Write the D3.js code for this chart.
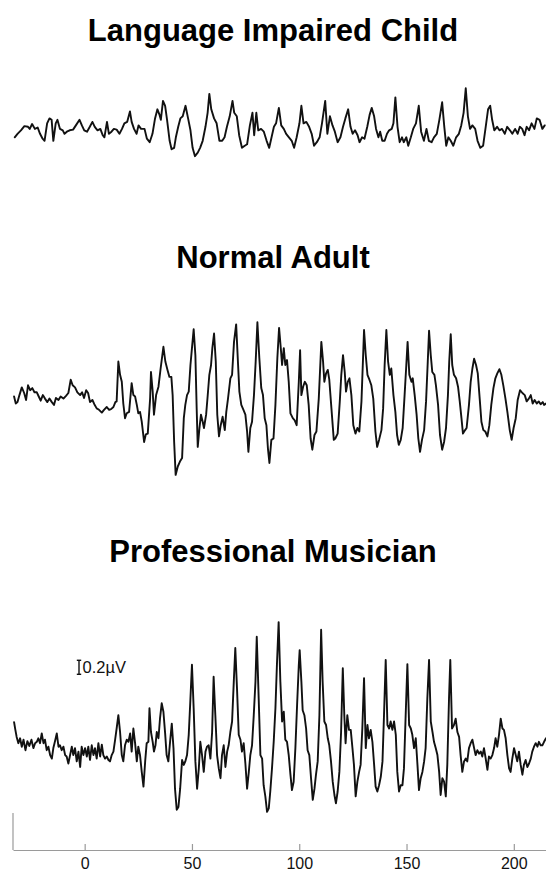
<!DOCTYPE html>
<html>
<head>
<meta charset="utf-8">
<script src="https://cdn.jsdelivr.net/npm/d3@7"></script>
<style>
  html, body { margin: 0; padding: 0; background: #fff; }
  svg { display: block; font-family: "Liberation Sans", Arial, Helvetica, sans-serif; }
</style>
</head>
<body>
<svg id="chart" width="546" height="874"></svg>
<script>
// Averaged brainstem responses: [latency (ms), amplitude (µV)]
const childTrace = [
  [-32.6,-0.09],[-31.3,-0.04],[-29.7,0.01],[-28.1,0.07],[-26.4,0.06],[-25.6,0.03],[-24.5,0.10],[-23.2,0.03],[-21.9,0.05],[-20.8,-0.04],
  [-19.6,-0.11],[-18.7,-0.14],[-17.5,0.11],[-16.4,0.18],[-15.4,0.16],[-14.6,-0.14],[-13.5,0.11],[-12.7,0.16],[-11.5,0.03],[-10.2,0.01],
  [-9.4,-0.04],[-8.3,-0.01],[-7.0,0.01],[-5.4,0.02],[-4.1,0.08],[-2.4,0.16],[-1.3,0.08],[-0.2,0.01],[1.1,-0.01],[2.4,0.06],
  [3.6,0.13],[4.7,0.06],[6.0,0.01],[7.3,0.03],[8.4,-0.06],[9.2,-0.09],[10.4,0.13],[11.3,-0.04],[12.5,-0.01],[13.6,0.03],
  [14.9,0.02],[16.2,-0.04],[17.4,0.03],[18.5,0.11],[19.8,0.13],[21.1,0.28],[21.9,0.13],[23.0,0.03],[24.2,-0.04],[25.1,0.08],
  [26.3,0.03],[27.9,0.03],[29.0,-0.11],[30.3,-0.16],[31.6,-0.04],[32.8,0.18],[33.9,0.31],[34.9,0.23],[35.5,0.16],[36.5,0.43],
  [37.5,0.36],[38.4,0.16],[39.6,-0.14],[40.5,-0.26],[41.7,-0.24],[42.5,-0.09],[43.6,0.06],[44.6,0.18],[45.7,0.21],[47.0,0.36],
  [48.2,0.18],[49.3,0.01],[50.3,-0.24],[51.4,-0.36],[52.7,-0.31],[53.8,-0.24],[55.0,-0.14],[56.3,0.06],[57.3,0.26],[58.1,0.53],
  [59.0,0.31],[60.3,0.18],[61.5,0.11],[62.8,-0.14],[64.1,-0.14],[65.2,-0.09],[66.3,0.06],[67.6,0.21],[68.9,0.43],[69.7,0.26],
  [70.9,0.21],[72.0,-0.06],[73.3,-0.24],[74.6,-0.21],[75.7,-0.19],[77.0,0.08],[78.2,0.26],[79.0,-0.06],[80.0,0.26],[80.9,0.01],
  [82.2,0.03],[83.5,-0.01],[84.8,-0.14],[86.0,-0.24],[87.1,-0.09],[88.2,0.06],[89.2,0.11],[90.5,0.33],[91.6,0.08],[92.8,0.03],
  [93.9,-0.04],[95.2,-0.09],[96.5,-0.14],[97.6,-0.24],[98.8,-0.09],[100.1,0.11],[101.0,0.36],[102.0,0.11],[103.3,0.13],[104.6,0.06],
  [105.8,-0.04],[106.9,-0.21],[108.2,-0.16],[109.5,-0.09],[110.6,0.11],[112.1,0.43],[113.1,-0.04],[114.3,0.21],[115.5,0.08],[116.6,-0.01],
  [117.9,-0.16],[119.2,-0.09],[120.4,0.06],[121.5,0.18],[122.8,0.31],[123.9,0.06],[124.9,-0.04],[126.0,0.01],[127.2,-0.06],[128.1,-0.16],
  [129.3,-0.09],[130.4,-0.11],[131.7,0.06],[132.8,0.23],[133.8,0.33],[134.9,0.21],[135.8,0.03],[136.9,-0.09],[137.7,-0.01],[138.7,-0.14],
  [139.8,-0.14],[140.9,-0.04],[141.9,0.01],[143.1,0.03],[143.9,0.11],[144.8,0.48],[145.8,0.06],[146.8,-0.16],[147.9,-0.09],[148.7,-0.16],
  [149.9,-0.09],[150.8,-0.21],[152.0,-0.09],[153.1,0.03],[154.4,0.11],[155.7,0.36],[156.8,-0.01],[158.1,-0.14],[159.3,0.03],[160.4,-0.14],
  [161.7,-0.16],[162.8,-0.09],[164.1,-0.04],[165.3,0.16],[166.6,0.41],[167.6,0.06],[168.5,-0.21],[169.5,-0.09],[170.6,-0.14],[171.8,-0.21],
  [173.1,-0.09],[174.4,-0.04],[175.5,0.08],[176.6,0.26],[177.6,0.61],[178.6,0.21],[179.6,0.03],[180.7,0.08],[182.0,0.03],[183.1,-0.14],
  [184.4,-0.24],[185.7,-0.21],[186.9,0.06],[188.0,0.31],[189.0,0.36],[189.9,0.16],[190.9,0.01],[192.2,0.06],[193.3,0.01],[194.5,0.03],
  [195.8,-0.04],[196.9,0.06],[198.2,0.01],[199.3,-0.04],[200.6,0.03],[201.8,-0.04],[202.8,0.06],[203.9,0.03],[205.0,-0.06],[206.0,0.06],
  [207.1,0.01],[208.3,0.11],[209.6,0.03],[210.7,0.18],[212.0,0.16],[213.3,0.03],[214.4,0.08]
];

const adultTrace = [
  [-32.9,0.05],[-32.1,-0.05],[-31.3,-0.03],[-30.4,0.07],[-29.3,0.18],[-28.2,0.10],[-27.3,0],[-26.4,0.21],[-25.4,0.14],[-24.4,0.17],
  [-23.4,0.11],[-22.3,0.11],[-21.4,0.05],[-20.5,-0.01],[-19.5,0.07],[-18.5,0.02],[-17.4,-0.03],[-16.4,0.02],[-15.3,-0.03],[-14.3,-0.07],
  [-13.4,0.03],[-12.2,0],[-11.2,0.05],[-9.9,0.02],[-8.7,0.06],[-7.6,0.10],[-6.5,0.29],[-5.6,0.21],[-4.5,0.18],[-3.4,0.11],
  [-2.1,0.07],[-1.2,0.11],[-0.3,0.03],[0.7,0.14],[1.6,0.10],[2.5,-0.03],[3.6,0],[4.5,-0.06],[5.6,-0.12],[6.7,-0.14],
  [8.0,-0.18],[9.0,-0.14],[10.3,-0.10],[11.4,-0.14],[12.3,-0.13],[13.4,-0.10],[14.3,-0.03],[14.9,-0.02],[15.7,0.55],[16.5,0.36],
  [17.3,0.26],[18.0,-0.05],[18.8,-0.26],[19.6,-0.19],[20.7,-0.17],[21.9,0.24],[22.7,0.07],[23.5,0.05],[24.3,-0.07],[25.0,-0.19],
  [25.8,-0.17],[26.6,-0.31],[27.7,-0.60],[28.5,-0.49],[29.4,-0.48],[30.5,0.02],[30.9,0.40],[31.7,0.12],[32.3,-0.21],[33.3,0.07],
  [34.4,0.19],[35.4,0.45],[36.7,0.76],[37.6,0.55],[38.6,0.43],[39.5,0.33],[40.4,0.33],[41.0,0.07],[41.7,-0.60],[42.4,-1.07],
  [43.4,-0.95],[44.4,-0.88],[45.4,-0.83],[46.2,-0.26],[46.9,-0.07],[47.7,0.07],[48.5,0.12],[49.3,0.50],[50.0,0.74],[50.8,1.01],
  [51.6,0.64],[52.2,-0.12],[52.7,-0.67],[53.5,-0.40],[54.2,-0.21],[55.0,-0.31],[55.6,-0.40],[56.6,-0.21],[57.3,0.05],[58.1,0.36],
  [58.9,0.50],[59.5,0.74],[60.3,0.95],[61.1,0.55],[61.8,-0.21],[62.6,-0.52],[63.4,-0.36],[64.3,-0.24],[65.3,-0.43],[66.0,-0.17],
  [66.8,0.02],[67.9,0.31],[68.7,0.36],[69.6,0.83],[70.6,1.08],[71.5,0.50],[72.1,0.12],[73.0,-0.07],[74.0,-0.14],[74.9,-0.21],
  [75.7,-0.45],[76.3,-0.74],[77.2,-0.40],[78.0,-0.31],[78.9,0.07],[79.7,0.55],[80.5,1.11],[81.4,0.60],[82.3,0.17],[83.1,0.07],
  [83.9,-0.26],[84.7,-0.36],[85.4,-0.69],[86.1,-0.90],[87.0,-0.57],[88.0,-0.55],[88.9,-0.07],[89.8,0.60],[90.6,1.03],[91.4,0.74],
  [92.0,0.50],[92.8,0.74],[93.5,0.50],[94.3,0.57],[95.1,0.26],[95.9,-0.19],[97.0,-0.26],[97.9,-0.29],[98.8,-0.36],[99.8,0.26],
  [100.4,0.71],[101.0,0.07],[101.8,0.19],[102.6,0.26],[103.5,0.21],[104.4,-0.07],[105.3,-0.55],[106.1,-0.71],[107.1,-0.50],[108.0,-0.45],
  [109.1,0.02],[110.3,0.83],[111.1,0.55],[111.7,0.26],[112.5,0.38],[113.3,0.43],[114.0,0.29],[115.0,-0.12],[116.1,-0.57],[116.8,-0.55],
  [117.9,-0.48],[118.9,-0.02],[119.6,0.36],[120.4,0.64],[121.2,0.40],[121.8,0.12],[122.6,0.26],[123.4,0.31],[124.3,0.07],[125.2,-0.36],
  [126.2,-0.48],[127.1,-0.40],[128.0,-0.45],[129.0,-0.02],[129.9,0.74],[130.2,1.00],[131.0,0.64],[131.8,0.36],[132.7,0.29],[133.6,0.21],
  [134.5,0.02],[135.5,-0.45],[136.3,-0.67],[137.2,-0.57],[138.3,-0.43],[139.1,-0.12],[139.8,0.50],[140.6,1.00],[141.4,0.55],[142.2,0.36],
  [142.9,0.45],[143.9,0.07],[144.8,-0.17],[145.6,-0.50],[146.4,-0.64],[147.3,-0.57],[148.2,-0.40],[149.1,0.07],[149.9,0.50],[150.5,0.83],
  [151.3,0.36],[152.3,0.26],[152.9,0.31],[153.8,0.07],[154.7,-0.21],[155.5,-0.55],[156.3,-0.74],[157.2,-0.57],[158.2,-0.43],[159.1,-0.02],
  [159.9,0.55],[160.5,0.99],[161.3,0.64],[162.0,0.40],[163.0,0.36],[163.7,0.21],[164.7,-0.07],[165.6,-0.50],[166.6,-0.71],[167.5,-0.60],
  [168.4,-0.40],[169.3,0.07],[169.9,0.55],[170.6,0.94],[171.3,0.50],[172.1,0.36],[173.1,0.31],[174.0,0.19],[174.8,-0.02],[175.6,-0.26],
  [176.3,-0.48],[177.3,-0.43],[178.0,-0.40],[179.1,-0.07],[179.9,0.26],[180.7,0.45],[181.5,0.59],[182.4,0.50],[183.2,0.38],[184.1,0.02],
  [184.9,-0.31],[185.8,-0.43],[186.7,-0.45],[187.7,-0.52],[188.6,-0.36],[189.5,-0.07],[190.5,0.17],[191.4,0.31],[192.3,0.38],[193.3,0.44],
  [194.2,0.36],[195.1,0.21],[196.1,0.02],[197.0,-0.17],[198.1,-0.43],[199.0,-0.57],[199.9,-0.40],[200.9,-0.26],[201.8,0],[202.9,0.14],
  [204.0,0.10],[205.1,0.07],[206.0,-0.02],[207.0,0.02],[207.9,0.07],[208.8,-0.05],[209.7,0],[210.7,-0.05],[211.6,-0.02],[212.5,-0.06],
  [213.5,-0.03],[214.1,-0.07],[215.0,-0.05]
];

const musicianTrace = [
  [-32.9,0.35],[-32.3,0.24],[-31.7,0.14],[-30.9,0.05],[-30.1,0.12],[-29.3,0],[-28.5,0.10],[-27.6,-0.05],[-26.7,0.08],[-25.8,0.01],
  [-24.8,0.10],[-23.9,-0.02],[-23.1,0.05],[-22.3,0.07],[-21.6,0.12],[-20.8,0.05],[-20.0,0.19],[-19.2,0.05],[-18.5,0.10],[-17.7,-0.05],
  [-16.9,0],[-16.1,-0.12],[-15.3,-0.17],[-14.6,-0.02],[-13.8,0.08],[-13.0,0.19],[-12.2,0],[-11.5,0.02],[-10.7,-0.05],[-9.9,0],
  [-9.1,-0.12],[-8.4,-0.14],[-7.6,-0.24],[-6.8,-0.12],[-6.0,0],[-5.3,-0.12],[-4.5,-0.02],[-3.7,-0.21],[-2.9,-0.07],[-2.1,-0.29],
  [-1.4,0],[-0.6,-0.12],[0.2,-0.02],[1.0,-0.14],[1.7,0],[2.5,-0.19],[3.3,0.02],[4.1,-0.12],[4.8,-0.02],[5.6,-0.17],
  [6.4,0.05],[7.2,-0.14],[8.0,0.03],[8.7,-0.12],[9.5,-0.17],[10.3,-0.14],[11.1,-0.19],[11.8,-0.21],[12.6,-0.12],[13.4,-0.07],
  [14.2,0.10],[14.9,0.26],[15.7,0.45],[16.5,0.21],[17.3,-0.12],[18.0,-0.21],[18.8,0.02],[19.6,0.10],[20.4,0.07],[21.2,0.19],
  [21.9,-0.07],[22.7,0.26],[23.5,0.05],[24.3,-0.21],[25.0,0],[25.8,-0.12],[26.6,-0.36],[27.4,-0.57],[28.2,-0.21],[28.9,0.05],
  [29.7,0.07],[30.2,0.55],[30.9,0.21],[31.7,0.07],[32.3,-0.07],[33.0,0.02],[33.6,0.21],[34.4,0.12],[35.1,0.40],[35.9,0.62],
  [36.7,0.50],[37.5,0.19],[38.2,-0.12],[39.0,-0.21],[39.8,0.07],[40.6,0.33],[41.4,-0.02],[42.1,-0.60],[42.9,-0.90],[43.7,-0.86],
  [44.5,-0.60],[45.4,-0.19],[46.2,-0.26],[46.9,-0.21],[47.7,-0.12],[48.5,0.17],[49.3,0.69],[50.0,1.17],[50.8,0.55],[51.6,-0.21],
  [52.4,-0.60],[53.2,-0.31],[53.9,0.07],[54.7,-0.12],[55.5,-0.36],[56.3,-0.07],[57.0,0],[57.8,0.02],[58.6,-0.17],[59.4,0.21],
  [60.1,1.00],[60.9,0.45],[61.7,-0.12],[62.5,-0.31],[63.3,-0.45],[64.0,-0.12],[64.8,0.02],[65.6,-0.29],[66.4,-0.07],[67.1,0.02],
  [67.9,0.21],[68.7,0.36],[69.5,0.93],[70.2,1.41],[71.0,0.83],[71.8,0.17],[72.6,0.10],[73.3,-0.07],[74.1,0.05],[74.9,-0.24],
  [75.7,-0.60],[76.5,-0.36],[77.2,-0.12],[78.0,0.02],[78.8,0.45],[79.6,0.93],[80.2,1.57],[81.1,0.69],[81.9,-0.12],[82.7,-0.17],
  [83.4,-0.55],[84.2,-0.71],[85.0,-0.93],[85.8,-0.88],[86.5,-0.64],[87.3,-0.31],[88.1,0.07],[88.9,0.55],[89.6,1.17],[90.4,1.78],
  [91.2,0.93],[92.0,0.36],[92.8,0.50],[93.5,0.10],[94.3,0.07],[95.1,-0.12],[95.9,-0.40],[96.6,-0.62],[97.4,-0.50],[98.2,-0.02],
  [99.0,0.60],[99.8,1.17],[100.2,1.38],[101.0,0.93],[101.6,0.52],[102.4,0.45],[103.2,0.26],[103.9,-0.05],[104.7,-0.12],[105.5,-0.45],
  [106.3,-0.76],[107.1,-0.60],[107.8,-0.40],[108.6,-0.21],[109.4,0.45],[110.2,1.67],[110.9,0.93],[111.7,0.36],[112.5,0.31],[113.3,0.12],
  [114.0,0.02],[114.8,-0.21],[115.6,-0.50],[116.4,-0.69],[117.1,-0.81],[117.9,-0.64],[118.7,-0.36],[119.5,0.21],[120.3,1.12],[121.0,0.45],
  [121.6,0.05],[122.4,0.45],[123.2,0.24],[124.0,0.24],[124.8,-0.02],[125.5,-0.26],[126.3,-0.71],[127.1,-0.50],[127.9,-0.36],[128.6,-0.26],
  [129.4,0.26],[130.2,0.98],[131.0,-0.02],[131.8,0.31],[132.5,0.12],[133.3,0.24],[134.1,0.07],[134.9,-0.26],[135.6,-0.57],[136.4,-0.64],
  [137.2,-0.55],[138.0,-0.43],[138.8,-0.21],[139.5,0.45],[140.3,1.24],[141.1,0.31],[141.9,0.26],[142.6,0.36],[143.4,0.24],[144.2,0.36],
  [145.0,0.17],[145.7,-0.36],[146.5,-0.64],[147.3,-0.55],[148.1,-0.55],[148.8,-0.31],[149.6,0.45],[150.4,1.18],[151.2,0.31],[152.0,0.26],
  [152.7,0.17],[153.5,-0.02],[154.3,0.12],[155.1,-0.26],[155.8,-0.62],[156.6,-0.45],[157.4,-0.36],[158.2,-0.21],[158.9,-0.02],[159.7,0.69],
  [160.5,1.24],[161.3,0.36],[162.1,0.21],[162.8,0.07],[163.6,-0.02],[164.4,-0.12],[165.2,-0.36],[165.9,-0.69],[166.7,-0.45],[167.5,-0.50],
  [168.3,-0.71],[169.0,-0.26],[169.8,0.69],[170.4,1.24],[171.2,0.26],[172.1,0.31],[172.9,0.40],[173.7,0.21],[174.5,0.14],[175.2,-0.12],
  [176.0,-0.36],[176.8,-0.21],[177.6,-0.17],[178.3,-0.21],[179.1,-0.02],[179.9,0.05],[180.7,0.10],[181.5,-0.02],[182.2,-0.12],[183.0,-0.05],
  [183.8,-0.10],[184.6,-0.07],[185.3,-0.14],[186.1,-0.02],[186.9,-0.17],[187.7,-0.33],[188.4,-0.14],[189.2,-0.17],[190.0,-0.12],[190.8,-0.02],
  [191.5,0.12],[192.3,0],[193.1,0.17],[193.9,0.40],[194.7,0.26],[195.4,0.24],[196.2,0.12],[197.0,-0.12],[197.8,-0.31],[198.5,-0.36],
  [199.3,-0.17],[200.1,-0.02],[200.9,-0.12],[201.6,-0.21],[202.4,-0.07],[203.2,-0.26],[204.0,-0.40],[204.7,-0.26],[205.5,-0.19],[206.3,-0.29],
  [207.1,-0.24],[207.9,-0.17],[208.6,-0.07],[209.4,0],[210.2,0.05],[211.0,0],[211.7,0.07],[212.5,0.02],[213.3,0.02],[214.1,0.07],
  [215.0,0.12]
];

const panelTitles = ["Language Impaired Child", "Normal Adult", "Professional Musician"];
const timeTicks = [0, 50, 100, 150, 200];
const scaleBarValue = 0.2;           // µV
const scaleBarLabel = "0.2\u00B5V";

// ---- layout ----
const svg = d3.select("#chart");
const width = 546;
const pxPerMicrovolt = 70;

const x = d3.scaleLinear().domain([-33.4, 215]).range([13, 546]);

const panels = [
  { title: panelTitles[0], trace: childTrace,    baseline: 131,   titleY: 41  },
  { title: panelTitles[1], trace: adultTrace,    baseline: 400,   titleY: 268 },
  { title: panelTitles[2], trace: musicianTrace, baseline: 746.7, titleY: 562 }
];

panels.forEach(p => {
  p.y = d3.scaleLinear()
    .domain([-1, 1])
    .range([p.baseline + pxPerMicrovolt, p.baseline - pxPerMicrovolt]);

  svg.append("text")
    .attr("x", width / 2)
    .attr("y", p.titleY)
    .attr("text-anchor", "middle")
    .attr("font-size", 31)
    .attr("font-weight", "bold")
    .attr("fill", "#000")
    .text(p.title);

  const line = d3.line()
    .x(d => x(d[0]))
    .y(d => p.y(d[1]));

  svg.append("path")
    .datum(p.trace)
    .attr("d", line)
    .attr("fill", "none")
    .attr("stroke", "#111")
    .attr("stroke-width", 1.9)
    .attr("stroke-linejoin", "round")
    .attr("stroke-linecap", "round");
});

// ---- amplitude scale bar ----
const yM = panels[2].y;
const barBottom = 674.3;
const barH = yM(0) - yM(scaleBarValue);
const barX = 79;
const bar = svg.append("g").attr("stroke", "#111").attr("stroke-width", 1.4);
bar.append("line").attr("x1", barX).attr("x2", barX).attr("y1", barBottom - barH).attr("y2", barBottom);
bar.append("line").attr("x1", barX - 2.2).attr("x2", barX + 2.2).attr("y1", barBottom - barH).attr("y2", barBottom - barH);
bar.append("line").attr("x1", barX - 2.2).attr("x2", barX + 2.2).attr("y1", barBottom).attr("y2", barBottom);
svg.append("text")
  .attr("x", 82.5)
  .attr("y", barBottom - 1)
  .attr("font-size", 16.5)
  .attr("fill", "#111")
  .text(scaleBarLabel);

// ---- time axis ----
const axisY = 850;
const axis = svg.append("g")
  .attr("transform", `translate(0,${axisY})`)
  .call(d3.axisBottom(x).tickValues(timeTicks).tickSize(-6).tickSizeOuter(0).tickPadding(8));
axis.select(".domain").attr("stroke", "#9a9a9a").attr("stroke-width", 1.2);
axis.selectAll(".tick line").attr("stroke", "#9a9a9a").attr("stroke-width", 1.2);
axis.selectAll(".tick text")
  .attr("font-size", 16)
  .attr("font-family", "'Liberation Sans', Arial, sans-serif")
  .attr("fill", "#111");

// vertical axis stub at the left edge
svg.append("line")
  .attr("x1", x.range()[0]).attr("x2", x.range()[0])
  .attr("y1", 813).attr("y2", axisY)
  .attr("stroke", "#9a9a9a").attr("stroke-width", 1.2);
</script>
</body>
</html>
